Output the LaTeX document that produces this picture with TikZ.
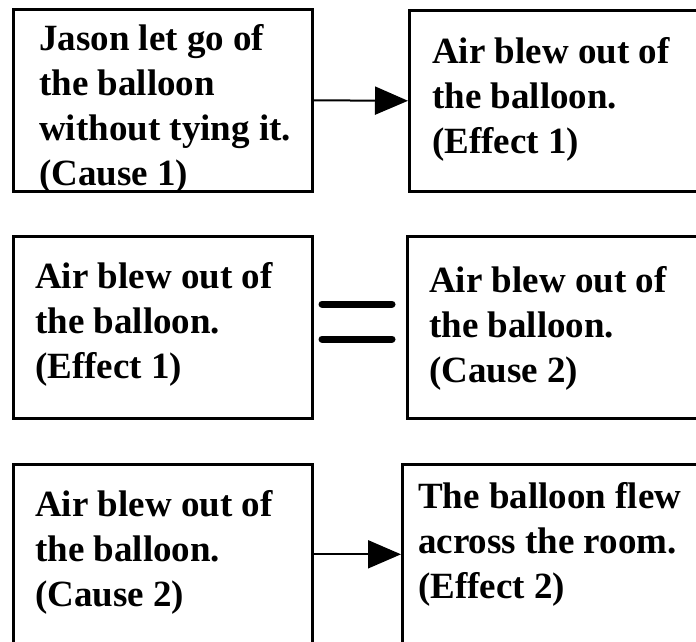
\documentclass[tikz,border=0pt]{standalone}
\usepackage{fontspec}
\setmainfont{Liberation Serif}
\usetikzlibrary{arrows.meta}
\tikzset{
  box/.style={draw=black, line width=2.6pt, inner sep=0pt, anchor=north west, fill=none},
  txt/.style={anchor=base west, inner sep=0pt, font=\bfseries\fontsize{37}{45}\selectfont},
  conn/.style={line width=2pt, -{Triangle[length=33pt,width=28pt]}, shorten >=0pt},
  eqbar/.style={line width=7pt, line cap=round}
}
\newcommand{\boxtext}[1]{\parbox[t]{400pt}{\raggedright #1}}
\begin{document}
\begin{tikzpicture}[x=1pt,y=1pt]
\useasboundingbox (0,0) rectangle (696,-641);
\fill[white] (0,0) rectangle (696,-641);
\clip (0,0) rectangle (696,-641);
% boxes
\node[box, minimum width=299pt, minimum height=182pt] (b1) at (12,-8) {};
\node[box, minimum width=320pt, minimum height=181pt] (b2) at (408,-9) {};
\node[box, minimum width=299pt, minimum height=182pt] (b3) at (12,-235) {};
\node[box, minimum width=320pt, minimum height=182pt] (b4) at (406,-235) {};
\node[box, minimum width=299pt, minimum height=180pt] (b5) at (12,-463) {};
\node[box, minimum width=330pt, minimum height=180pt] (b6) at (401,-463) {};
% texts
\node[txt] (t1) at (39,-50) {\boxtext{Jason let go of\\the balloon\\without tying it.\\(Cause 1)}};
\node[txt] (t2) at (432,-63) {\boxtext{Air blew out of\\the balloon.\\(Effect 1)}};
\node[txt] (t3) at (35,-288) {\boxtext{Air blew out of\\the balloon.\\(Effect 1)}};
\node[txt] (t4) at (429,-292) {\boxtext{Air blew out of\\the balloon.\\(Cause 2)}};
\node[txt] (t5) at (35,-516) {\boxtext{Air blew out of\\the balloon.\\(Cause 2)}};
\node[txt] (t6) at (418,-508) {\boxtext{The balloon flew\\across the room.\\(Effect 2)}};
% connectors
\draw[conn] (b1.east) -- (b2.west);
\draw[conn] (b5.east) -- (b6.west);
% equals sign
\draw[eqbar] (322,-304) -- (392,-304);
\draw[eqbar] (322,-339) -- (392,-339);
\end{tikzpicture}
\end{document}
